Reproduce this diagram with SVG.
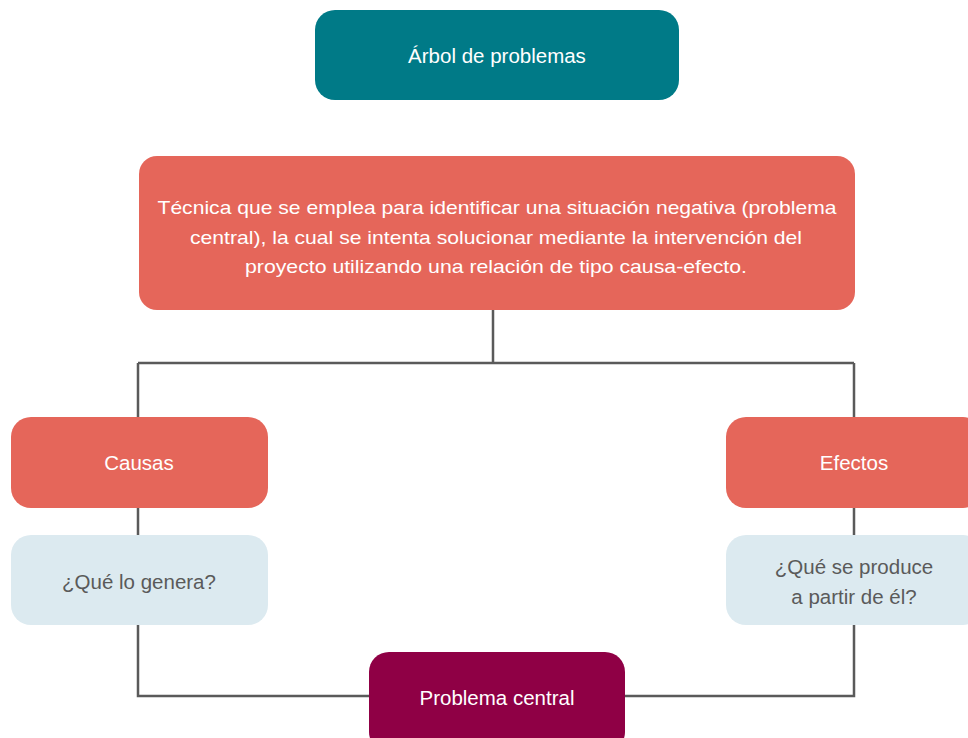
<svg xmlns="http://www.w3.org/2000/svg" width="968" height="738" viewBox="0 0 968 738">
<style>
text{font-family:"Liberation Sans","DejaVu Sans",sans-serif;font-size:20.5px;text-anchor:middle}
.d{font-size:19px}
.w{fill:#ffffff}
.g{fill:#5a5a5a}
.conn{fill:none;stroke:#5a5a5a;stroke-width:2.5}
</style>
<rect width="968" height="738" fill="#ffffff"/>
<g id="connectors" class="conn">
<path d="M493 310V363M138 363H854M138 363V418M854 363V418"/>
<path d="M138 508V536M854 508V536"/>
<path d="M138 625V696H370M854 625V696H625"/>
</g>
<g id="title">
<rect x="315" y="10" width="364" height="90" rx="20" fill="#007a87"/>
<text class="w" x="497" y="63">Árbol de problemas</text>
</g>
<g id="definicion">
<rect x="139" y="156" width="716" height="154" rx="18" fill="#e5665a"/>
<text class="w d" x="497" y="214" textLength="679" lengthAdjust="spacingAndGlyphs">Técnica que se emplea para identificar una situación negativa (problema</text>
<text class="w d" x="496" y="244" textLength="612" lengthAdjust="spacingAndGlyphs">central), la cual se intenta solucionar mediante la intervención del</text>
<text class="w d" x="496" y="273" textLength="502" lengthAdjust="spacingAndGlyphs">proyecto utilizando una relación de tipo causa-efecto.</text>
</g>
<g id="causas">
<rect x="11" y="417" width="257" height="91" rx="20" fill="#e5665a"/>
<text class="w" x="139" y="470">Causas</text>
</g>
<g id="que-genera">
<rect x="11" y="535" width="257" height="90" rx="20" fill="#dceaf0"/>
<text class="g" x="139" y="589">¿Qué lo genera?</text>
</g>
<g id="efectos">
<rect x="726" y="417" width="257" height="91" rx="20" fill="#e5665a"/>
<text class="w" x="854" y="470">Efectos</text>
</g>
<g id="que-produce">
<rect x="726" y="535" width="257" height="90" rx="20" fill="#dceaf0"/>
<text class="g" x="854" y="574">¿Qué se produce</text>
<text class="g" x="854" y="604">a partir de él?</text>
</g>
<g id="problema-central">
<rect x="369" y="652" width="256" height="100" rx="20" fill="#8f0045"/>
<text class="w" x="497" y="705">Problema central</text>
</g>
</svg>
